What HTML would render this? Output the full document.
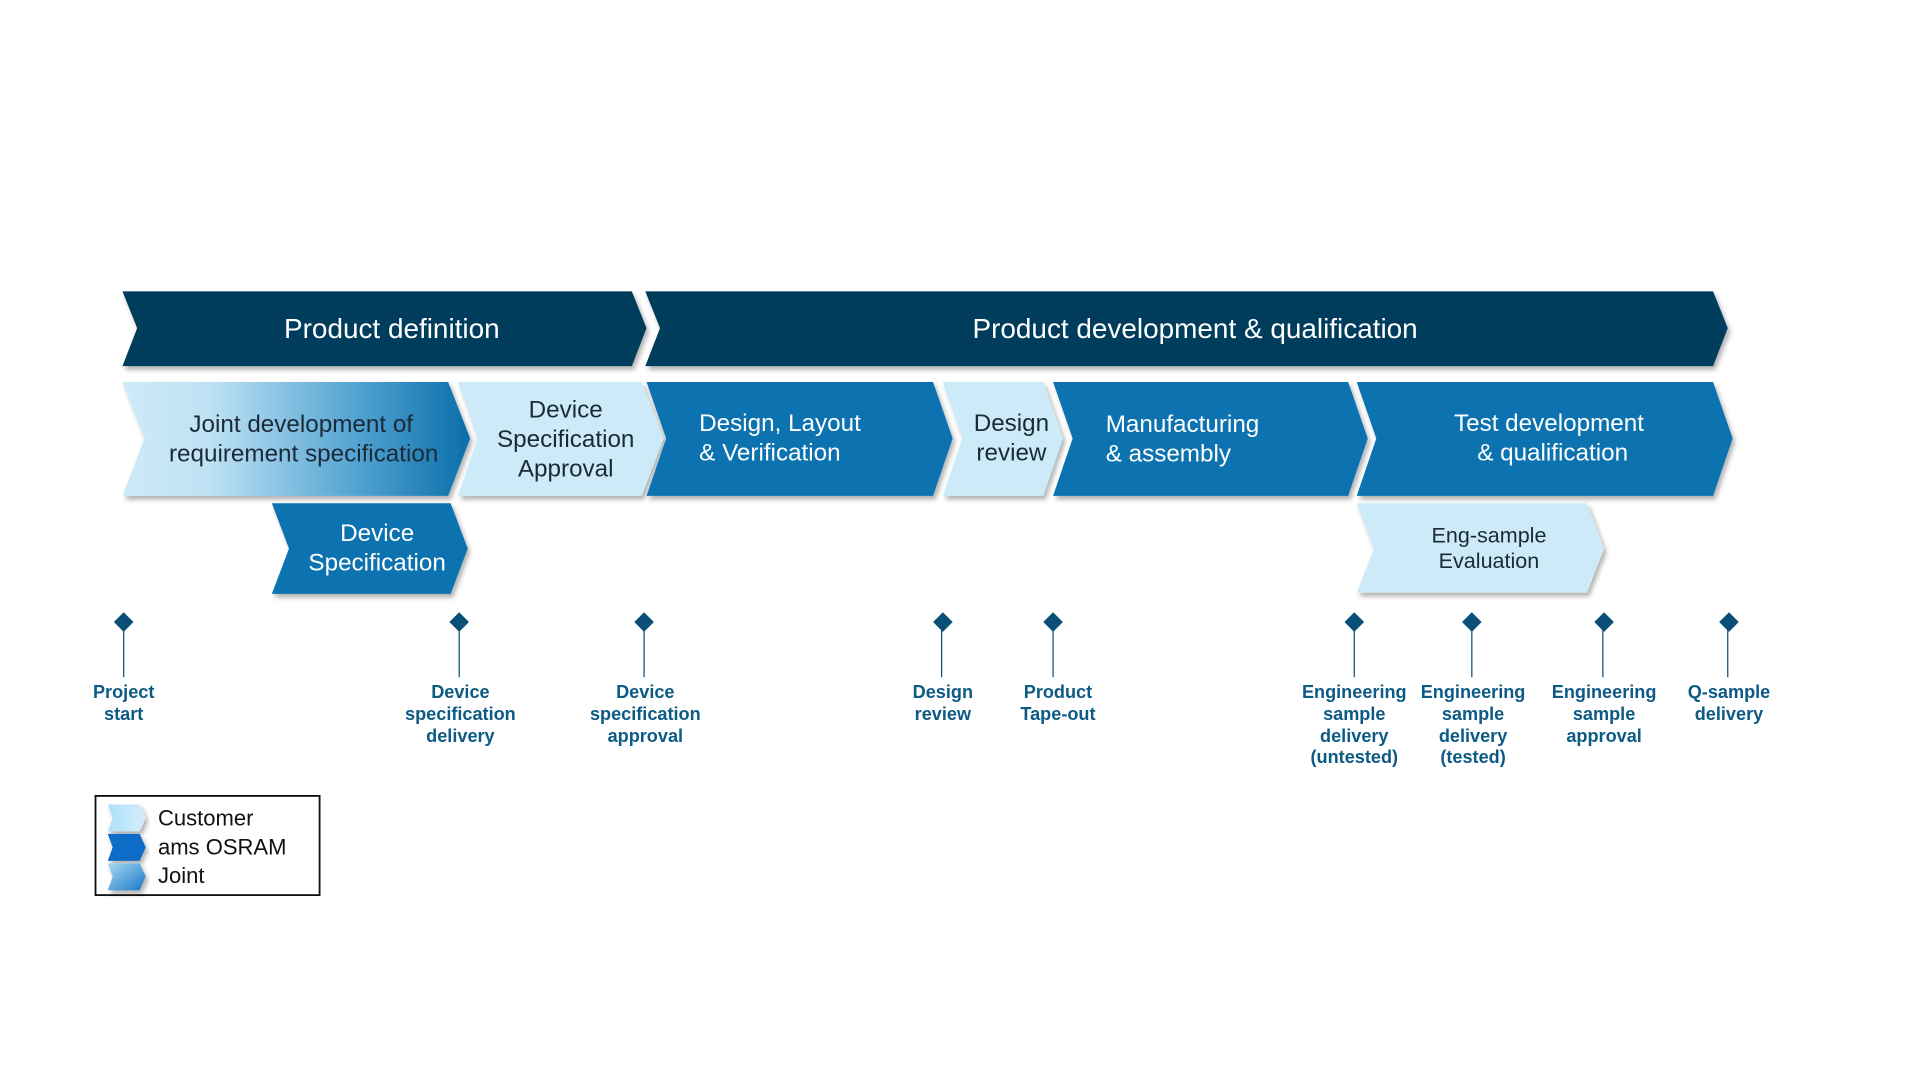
<!DOCTYPE html>
<html><head><meta charset="utf-8"><style>
html,body{margin:0;padding:0;background:#fff;width:1920px;height:1080px;overflow:hidden}
svg{display:block}
text{font-family:"Liberation Sans",Arial,sans-serif}
</style></head><body>
<svg width="1920" height="1080" viewBox="0 0 1568 882" xmlns="http://www.w3.org/2000/svg">
<defs>
<linearGradient id="jg" x1="0" x2="1" y1="0" y2="0">
<stop offset="0" stop-color="#cdeaf8"/><stop offset="0.25" stop-color="#bfe2f4"/><stop offset="0.7" stop-color="#4c9fcf"/><stop offset="1" stop-color="#0a6ea8"/>
</linearGradient>
<filter id="sh" x="-5%" y="-10%" width="115%" height="130%"><feDropShadow dx="2" dy="3" stdDeviation="2" flood-color="#000" flood-opacity="0.3"/></filter>
<linearGradient id="lg1" x1="0" x2="1"><stop offset="0" stop-color="#aee0f8"/><stop offset="1" stop-color="#d5eefb"/></linearGradient>
<linearGradient id="lg3" x1="0" x2="1" y1="0" y2="1"><stop offset="0" stop-color="#a9d9f4"/><stop offset="1" stop-color="#1a78c8"/></linearGradient>
</defs>
<g filter="url(#sh)">
<polygon points="100,238 516,238 528,268 516,299 100,299 112,268" fill="#053d5c"/>
<polygon points="527,238 1399,238 1411,268 1399,299 527,299 539,268" fill="#053d5c"/>
<polygon points="100,312 366,312 384,358 366,405 100,405 118,358" fill="url(#jg)"/>
<polygon points="374,312 524,312 542,358 524,405 374,405 390,358" fill="#cdeaf8"/>
<polygon points="528,312 762,312 778,358 762,405 528,405 544,358" fill="#0873b0"/>
<polygon points="770,312 852,312 868,358 852,405 770,405 786,358" fill="#cdeaf8"/>
<polygon points="860,312 1101,312 1117,358 1101,405 860,405 876,358" fill="#0873b0"/>
<polygon points="1108,312 1399,312 1415,358 1399,405 1108,405 1124,358" fill="#0873b0"/>
<polygon points="222,411 368,411 382,448 368,485 222,485 236,448" fill="#0873b0"/>
<polygon points="1108,411 1296,411 1310,448 1296,484 1108,484 1122,448" fill="#cdeaf8"/>
</g>
<g fill="#fff" font-size="22.8" text-anchor="middle">
<text x="320" y="276">Product definition</text>
<text x="976" y="276">Product development &amp; qualification</text>
</g>
<g font-size="19.8" text-anchor="middle" fill="#1b2a38">
<text x="246" y="353">Joint development of</text>
<text x="248" y="377">requirement specification</text>
<text x="462" y="341">Device</text>
<text x="462" y="365">Specification</text>
<text x="462" y="389">Approval</text>
<text x="826" y="352">Design</text>
<text x="826" y="376">review</text>
<text x="1216" y="443" font-size="17.6">Eng-sample</text>
<text x="1216" y="464" font-size="17.6">Evaluation</text>
</g>
<g font-size="19.8" fill="#fff">
<text x="571" y="352">Design, Layout</text>
<text x="571" y="376">&amp; Verification</text>
<text x="903" y="353">Manufacturing</text>
<text x="903" y="377">&amp; assembly</text>
<text x="1265" y="352" text-anchor="middle">Test development</text>
<text x="1268" y="376" text-anchor="middle">&amp; qualification</text>
<text x="308" y="442" text-anchor="middle">Device</text>
<text x="308" y="466" text-anchor="middle">Specification</text>
</g>
<g fill="#0a4f78">
<polygon points="101,500 109,508 101,516 93,508"/><line x1="101" y1="508" x2="101" y2="553" stroke="#0a4f78"/>
<polygon points="375,500 383,508 375,516 367,508"/><line x1="375" y1="508" x2="375" y2="553" stroke="#0a4f78"/>
<polygon points="526,500 534,508 526,516 518,508"/><line x1="526" y1="508" x2="526" y2="553" stroke="#0a4f78"/>
<polygon points="770,500 778,508 770,516 762,508"/><line x1="769" y1="508" x2="769" y2="553" stroke="#0a4f78"/>
<polygon points="860,500 868,508 860,516 852,508"/><line x1="860" y1="508" x2="860" y2="553" stroke="#0a4f78"/>
<polygon points="1106,500 1114,508 1106,516 1098,508"/><line x1="1106" y1="508" x2="1106" y2="553" stroke="#0a4f78"/>
<polygon points="1202,500 1210,508 1202,516 1194,508"/><line x1="1202" y1="508" x2="1202" y2="553" stroke="#0a4f78"/>
<polygon points="1310,500 1318,508 1310,516 1302,508"/><line x1="1309" y1="508" x2="1309" y2="553" stroke="#0a4f78"/>
<polygon points="1412,500 1420,508 1412,516 1404,508"/><line x1="1411" y1="508" x2="1411" y2="553" stroke="#0a4f78"/>
</g>
<g fill="#0d5a85" font-size="14.8" font-weight="bold" text-anchor="middle">
<text x="101" y="570">Project</text><text x="101" y="588">start</text>
<text x="376" y="570">Device</text><text x="376" y="588">specification</text><text x="376" y="606">delivery</text>
<text x="527" y="570">Device</text><text x="527" y="588">specification</text><text x="527" y="606">approval</text>
<text x="770" y="570">Design</text><text x="770" y="588">review</text>
<text x="864" y="570">Product</text><text x="864" y="588">Tape-out</text>
<text x="1106" y="570">Engineering</text><text x="1106" y="588">sample</text><text x="1106" y="606">delivery</text><text x="1106" y="623">(untested)</text>
<text x="1203" y="570">Engineering</text><text x="1203" y="588">sample</text><text x="1203" y="606">delivery</text><text x="1203" y="623">(tested)</text>
<text x="1310" y="570">Engineering</text><text x="1310" y="588">sample</text><text x="1310" y="606">approval</text>
<text x="1412" y="570">Q-sample</text><text x="1412" y="588">delivery</text>
</g>
<rect x="78" y="650" width="183" height="81" fill="#fff" stroke="#111" stroke-width="1.5"/>
<g filter="url(#sh)">
<polygon points="88,657 114,657 119,668 114,679 88,679 92,668" fill="url(#lg1)"/>
<polygon points="88,681 114,681 119,692 114,703 88,703 92,692" fill="#0a6cc8"/>
<polygon points="88,705 114,705 119,716 114,727 88,727 92,716" fill="url(#lg3)"/>
</g>
<g font-size="18" fill="#111">
<text x="129" y="674">Customer</text>
<text x="129" y="698">ams OSRAM</text>
<text x="129" y="721">Joint</text>
</g>
</svg>
</body></html>
